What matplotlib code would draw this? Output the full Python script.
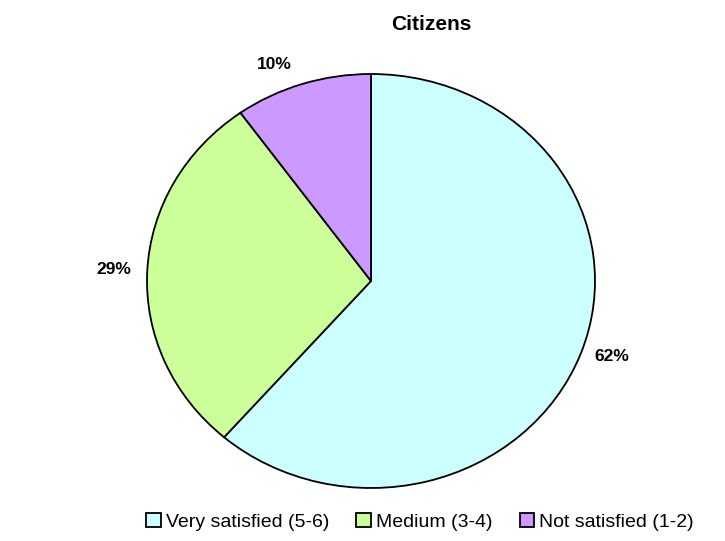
import matplotlib
matplotlib.use("Agg")
import matplotlib.pyplot as plt
from matplotlib.patches import Patch

plt.rcParams['font.family'] = ['Liberation Sans', 'DejaVu Sans']

title = "Citizens"
categories = ["Very satisfied (5-6)", "Medium (3-4)", "Not satisfied (1-2)"]
values = [62, 29, 10]
colors = ["#CCFFFF", "#CCFF99", "#CC99FF"]

fig = plt.figure(figsize=(7.25, 5.41), dpi=100)
ax = fig.add_axes([147/725, (541-488)/541, 448/725, 414/541])
wedges, texts = ax.pie(values, colors=colors, startangle=90, counterclock=False,
                       labels=[f"{v}%" for v in values], labeldistance=1.15,
                       wedgeprops=dict(edgecolor="black", linewidth=1.3),
                       textprops=dict(fontsize=12.5, fontweight="bold"))
# small nudges (axes units) to mimic the original label placement
nudges = [(0.0, 0.04), (0.0, 0.0), (-0.08, -0.05)]
for t, (dx, dy) in zip(texts, nudges):
    x, y = t.get_position()
    t.set_position((x + dx, y + dy))
    t.set_ha("center")
    t.set_va("center")
ax.set_aspect("auto")
ax.set_xlim(-1, 1)
ax.set_ylim(-1, 1)
ax.axis("off")

fig.text(431/725, 1 - 24/541, title, ha="center", va="center", fontsize=15, fontweight="bold")

handles = [Patch(facecolor=c, edgecolor="black", linewidth=1.3) for c in colors]
fig.legend(handles, categories, loc="center", bbox_to_anchor=(420/725, 1 - 522/541),
           ncol=3, frameon=False, fontsize=14, handlelength=0.75, handleheight=0.75,
           handletextpad=0.25, columnspacing=1.4)

fig.savefig("out.png", dpi=100)
